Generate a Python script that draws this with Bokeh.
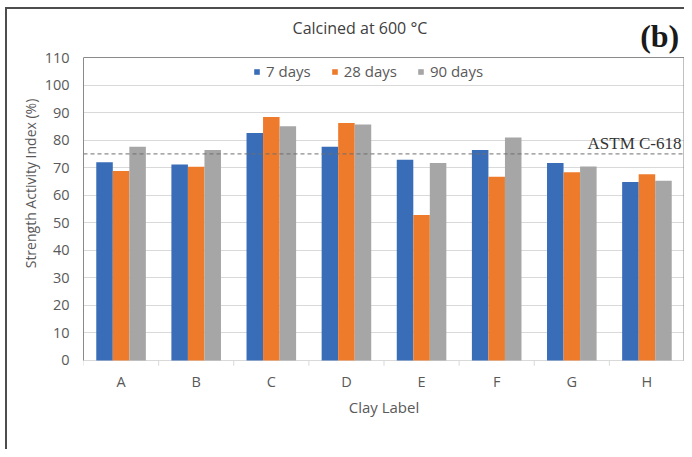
from bokeh.plotting import figure
from bokeh.models import (ColumnDataSource, FactorRange, Range1d, Span, Label,
                          Legend, LegendItem, FixedTicker)
from bokeh.transform import dodge
from bokeh.embed import file_html
from bokeh.resources import INLINE

# ---- data ----
clays = ["A", "B", "C", "D", "E", "F", "G", "H"]
days7 = [72.0, 71.2, 82.6, 77.6, 72.9, 76.4, 71.7, 64.8]
days28 = [68.8, 70.3, 88.4, 86.2, 52.8, 66.7, 68.3, 67.6]
days90 = [77.6, 76.4, 85.0, 85.7, 71.7, 81.0, 70.4, 65.3]
series_labels = ["7 days", "28 days", "90 days"]
astm_limit = 75
y_ticks = list(range(0, 111, 10))
y_max = 110

colors = ["#3A6DB8", "#EE7B2C", "#A6A6A6"]
FONT = "Open Sans"
TXT = "#595959"
FRAME = "#8A8A8A"
GRID = "#D9D9D9"

src = ColumnDataSource(dict(clay=clays, d7=days7, d28=days28, d90=days90))

# the frame spans the canvas top (title area) and a little below 0 (category ticks)
p = figure(width=684, height=449, x_range=FactorRange(*clays),
           y_range=Range1d(-2.18, 130.7), output_backend="svg", toolbar_location=None,
           min_border_left=83, min_border_right=0, min_border_top=0,
           min_border_bottom=83)

# outer chart border (left and top) painted behind a transparent canvas
p.background_fill_alpha = 0
p.border_fill_alpha = 0
p.styles = {"background": "linear-gradient(#4D4D4D, #4D4D4D) 5px 7px / 2px 100% no-repeat, "
                          "linear-gradient(#4D4D4D, #4D4D4D) 5px 7px / 100% 2px no-repeat, white"}
p.outline_line_color = None

bw = 0.22
renderers = []
for col, off, c in zip(["d7", "d28", "d90"], [-bw, 0, bw], colors):
    r = p.vbar(x=dodge("clay", off, range=p.x_range), top=col, bottom=0, width=bw,
               source=src, fill_color=c, line_color=None)
    renderers.append(r)

# grid
p.xgrid.grid_line_color = None
p.ygrid.grid_line_color = GRID
p.ygrid.grid_line_width = 1
p.yaxis.ticker = FixedTicker(ticks=y_ticks)

n = len(clays)
# category boundary tick marks below the baseline
bounds_x = list(range(n + 1))
p.segment(x0=bounds_x, y0=[0] * (n + 1), x1=bounds_x, y1=[-1.9] * (n + 1),
          line_color=GRID, line_width=1)

# plot-area border (top and right), left is the y axis line
p.segment(x0=[0, n - 0.007], y0=[y_max, 0], x1=[n, n - 0.007], y1=[y_max, y_max],
          line_color=FRAME, line_width=1)

# y axis
p.yaxis.bounds = (0, y_max)
p.yaxis.axis_label = "Strength Activity Index (%)"
p.yaxis.axis_label_text_font = FONT
p.yaxis.axis_label_text_font_size = "14px"
p.yaxis.axis_label_text_font_style = "normal"
p.yaxis.axis_label_text_color = TXT
p.yaxis.axis_label_standoff = 2
p.yaxis.axis_line_color = FRAME
p.yaxis.major_tick_line_color = None
p.yaxis.minor_tick_line_color = None
p.yaxis.major_tick_out = 0
p.yaxis.major_label_standoff = 14
p.yaxis.major_label_text_font = FONT
p.yaxis.major_label_text_font_size = "14.5px"
p.yaxis.major_label_text_color = TXT

# x axis (baseline is the 0 grid line)
p.xaxis.axis_label = "Clay Label"
p.xaxis.axis_label_text_font = FONT
p.xaxis.axis_label_text_font_size = "15px"
p.xaxis.axis_label_text_font_style = "normal"
p.xaxis.axis_label_text_color = TXT
p.xaxis.axis_label_standoff = 3
p.xaxis.axis_line_color = None
p.xaxis.major_tick_line_color = None
p.xaxis.major_tick_out = 0
p.xaxis.major_label_standoff = 5
p.xaxis.major_label_text_font = FONT
p.xaxis.major_label_text_font_size = "14.5px"
p.xaxis.major_label_text_color = TXT

# ASTM limit
p.add_layout(Span(location=astm_limit, dimension="width", line_color="#6E6E6E",
                  line_dash="4 3", line_width=1))
p.add_layout(Label(x=n, y=astm_limit, text="ASTM C-618", text_align="right",
                   text_baseline="bottom", x_offset=-3, y_offset=1,
                   text_font="Liberation Serif", text_font_size="17px",
                   text_color="#333333"))

# title and panel tag
p.add_layout(Label(x=3.68, y=120.6, text="Calcined at 600 °C", text_align="center",
                   text_baseline="middle", text_font=FONT, text_font_size="16px",
                   text_color="#404040"))
p.add_layout(Label(x=7.93, y=117.8, text="(b)", text_align="right",
                   text_baseline="middle", text_font="Liberation Serif",
                   text_font_size="32px", text_font_style="bold",
                   text_color="#1A1A1A"))

# legend
legend = Legend(items=[LegendItem(label=l, renderers=[r]) for l, r in zip(series_labels, renderers)],
                orientation="horizontal", location=(170, 285),
                glyph_width=7, glyph_height=7, label_standoff=6, spacing=20,
                padding=0, margin=0, border_line_color=None,
                background_fill_alpha=0,
                label_text_font=FONT, label_text_font_size="15px",
                label_text_color=TXT)
p.add_layout(legend)

open("out.html", "w").write(file_html(p, INLINE))
